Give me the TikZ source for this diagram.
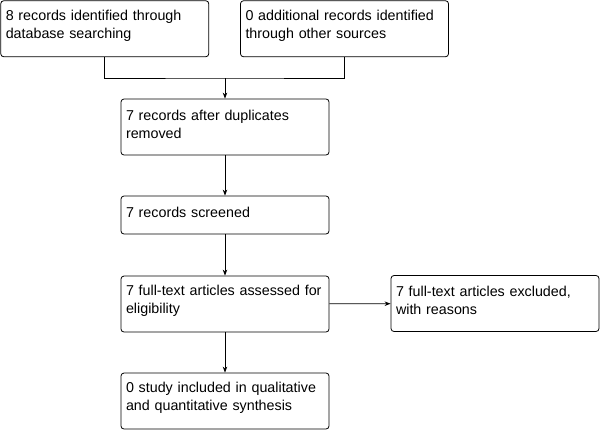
\documentclass[tikz,border=0pt]{standalone}
\usepackage{fontspec}
\setmainfont{Liberation Sans}
\usepackage{tikz}
\usetikzlibrary{arrows.meta}

\tikzset{
  flowbox/.style={draw,rounded corners=3pt,align=left,inner xsep=5pt,
    text width=198pt,minimum width=208pt,minimum height=56pt,
    font=\fontsize{14.3}{18}\selectfont,execute at end node={\vspace{6pt}}},
}

\begin{document}
\begin{tikzpicture}[>={Stealth[length=6pt,width=4.5pt]},x=1pt,y=-1pt,line width=0.8pt]
    \useasboundingbox (0,0) rectangle (601,431);
    \node[flowbox] (ident) at (104.75,28.75) {8 records identified through\\database searching};
    \node[flowbox] (other) at (344.5,28.75) {0 additional records identified\\through other sources};
    \node[flowbox] (dupl) at (225,127) {7 records after duplicates\\removed};
    \node[flowbox,minimum height=38pt] (screen) at (225,215) {7 records screened};
    \node[flowbox] (elig) at (225,304) {7 full-text articles assessed for\\eligibility};
    \node[flowbox] (excl) at (495,303.5) {7 full-text articles excluded,\\with reasons};
    \node[flowbox] (incl) at (225,401) {0 study included in qualitative\\and quantitative synthesis};
    \coordinate (join) at (225,78);
    \draw (ident) |- (join) -| (other);
    \draw[->] (join) -- (dupl);
    \draw[->] (dupl) -- (screen);
    \draw[->] (screen) -- (elig);
    \draw[->] (elig) -- (excl);
    \draw[->] (elig) -- (incl);
\end{tikzpicture}
\end{document}
